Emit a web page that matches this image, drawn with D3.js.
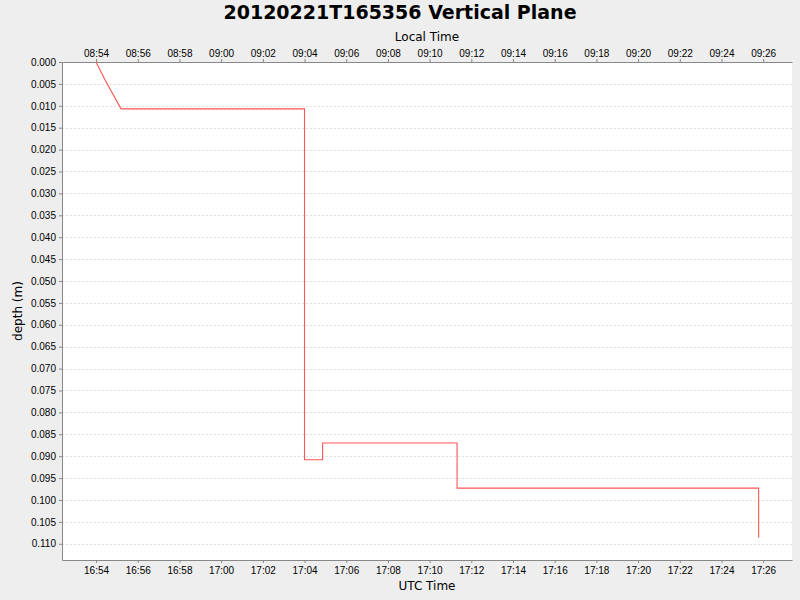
<!DOCTYPE html>
<html>
<head>
<meta charset="utf-8">
<script src="https://cdn.jsdelivr.net/npm/d3@7"></script>
<style>
  body { margin: 0; background: #eeeeee; }
  svg { display: block; font-family: "DejaVu Sans", sans-serif; }
</style>
</head>
<body>
<svg id="chart" width="800" height="600"></svg>
<script>
// UTC times of the trace and depth in metres
const times = ['16:54:00', '16:54:26', '16:55:12', '17:04:00', '17:04:00', '17:04:52', '17:04:52',
  '17:11:19', '17:11:19', '17:25:47', '17:25:47']
const depths = [0.0, 0.0041, 0.0107, 0.0107, 0.0908, 0.0908, 0.0870, 0.0870, 0.0973, 0.0973, 0.1086]

const xDomain = ['16:52:22', '17:27:23']
const yDomain = [0, 0.1137]
const localOffsetHours = -8

const parse = d3.utcParse('%Y-%m-%d %H:%M:%S')
const toDate = t => parse('2012-02-21 ' + t)

const margin = { top: 62, right: 8, bottom: 40, left: 62 }
const width = 800, height = 600
const svg = d3.select('#chart')

let xScale = d3.scaleUtc()
    .domain(xDomain.map(toDate))
    .range([margin.left, width - margin.right])
let yScale = d3.scaleLinear()
    .domain(yDomain)
    .range([margin.top, height - margin.bottom])

// plot background
svg.append('rect')
  .attr('x', margin.left)
  .attr('y', margin.top)
  .attr('width', width - margin.left - margin.right)
  .attr('height', height - margin.top - margin.bottom)
  .attr('fill', '#ffffff')

let yTicks = d3.range(0, 0.1101, 0.005)

// horizontal grid
svg.append('g')
  .selectAll('line')
  .data(yTicks)
  .join('line')
  .attr('x1', margin.left)
  .attr('x2', width - margin.right)
  .attr('y1', d => Math.round(yScale(d)) + 0.5)
  .attr('y2', d => Math.round(yScale(d)) + 0.5)
  .attr('stroke', '#e0e0e0')
  .attr('stroke-dasharray', '2,2')

let xTicks = d3.utcMinute.every(2).range(toDate('16:54:00'), toDate('17:27:00'))

let styleAxis = g => {
  g.select('.domain').attr('stroke', '#888888')
  g.selectAll('.tick line').attr('stroke', '#888888')
  g.selectAll('.tick text').attr('fill', '#000').attr('font-size', 10)
}

// bottom UTC axis
svg.append('g')
  .attr('transform', `translate(0,${height - margin.bottom})`)
  .call(d3.axisBottom(xScale).tickValues(xTicks).tickFormat(d3.utcFormat('%H:%M'))
    .tickSizeInner(3).tickSizeOuter(0).tickPadding(4))
  .call(styleAxis)

// top local time axis
svg.append('g')
  .attr('transform', `translate(0,${margin.top})`)
  .call(d3.axisTop(xScale).tickValues(xTicks)
    .tickFormat(d => d3.utcFormat('%H:%M')(d3.utcHour.offset(d, localOffsetHours)))
    .tickSizeInner(3).tickSizeOuter(0).tickPadding(2))
  .call(styleAxis)

// left depth axis
svg.append('g')
  .attr('transform', `translate(${margin.left},0)`)
  .call(d3.axisLeft(yScale).tickValues(yTicks).tickFormat(d3.format('.3f'))
    .tickSizeInner(3).tickSizeOuter(0).tickPadding(3))
  .call(styleAxis)

// the trace
let line = d3.line()
    .x((d, i) => xScale(toDate(times[i])))
    .y(d => yScale(d))

svg.append('path')
  .datum(depths)
  .attr('d', line)
  .attr('fill', 'none')
  .attr('stroke', '#ff5555')
  .attr('stroke-width', 1.1)

// titles
svg.append('text')
  .attr('x', width / 2)
  .attr('y', 19)
  .attr('text-anchor', 'middle')
  .attr('font-size', 19)
  .attr('font-weight', 'bold')
  .text('20120221T165356 Vertical Plane')

svg.append('text')
  .attr('x', (margin.left + width - margin.right) / 2)
  .attr('y', 41)
  .attr('text-anchor', 'middle')
  .attr('font-size', 12)
  .text('Local Time')

svg.append('text')
  .attr('x', (margin.left + width - margin.right) / 2)
  .attr('y', 590)
  .attr('text-anchor', 'middle')
  .attr('font-size', 12)
  .text('UTC Time')

svg.append('text')
  .attr('transform', `translate(22,${(margin.top + height - margin.bottom) / 2}) rotate(-90)`)
  .attr('text-anchor', 'middle')
  .attr('font-size', 12)
  .text('depth (m)')
</script>
</body>
</html>
